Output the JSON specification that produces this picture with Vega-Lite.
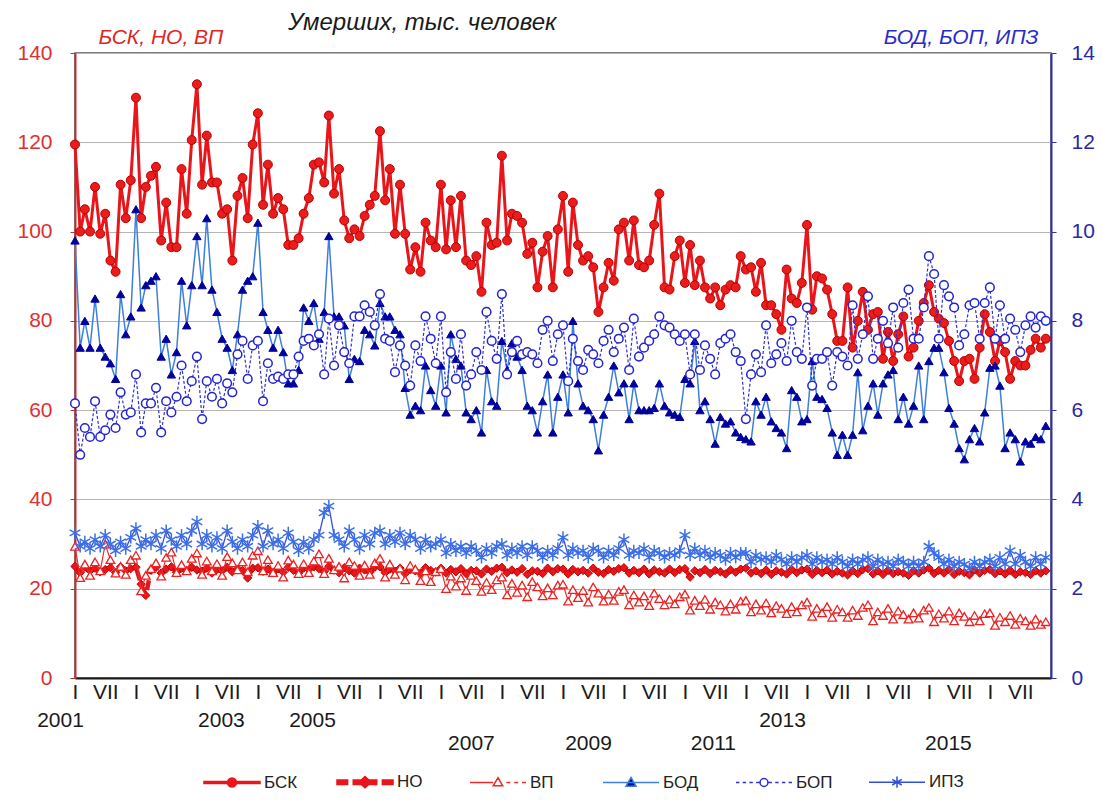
{
"$schema": "https://vega.github.io/schema/vega-lite/v6.json",
"width": 976, "height": 625,
"padding": {"left": 16, "top": 11, "right": 5, "bottom": 5},
"background": "white",
"title": {"text": "Умерших, тыс. человек", "anchor": "start", "frame": "group", "dx": 213, "fontSize": 24, "font": "Liberation Sans", "fontStyle": "italic", "fontWeight": "normal", "color": "#1a1a1a", "offset": -9},
"data": {"format": {"parse": {"d": "date:'%Y-%m'"}}, "values": [
{"d":"2001-01","a":119.5,"b":25.0,"c":29.5,"e":9.8,"f":6.15,"g":3.25},
{"d":"2001-02","a":100,"b":23.6,"c":22.5,"e":7.4,"f":5.0,"g":2.95},
{"d":"2001-03","a":105,"b":24.8,"c":25.5,"e":8.0,"f":5.6,"g":3.05},
{"d":"2001-04","a":100,"b":24.0,"c":23.0,"e":7.4,"f":5.4,"g":2.9},
{"d":"2001-05","a":110,"b":24.6,"c":26.0,"e":8.5,"f":6.2,"g":3.1},
{"d":"2001-06","a":99.5,"b":23.8,"c":24.0,"e":7.4,"f":5.4,"g":2.95},
{"d":"2001-07","a":104,"b":24.3,"c":30.0,"e":7.2,"f":5.55,"g":3.2},
{"d":"2001-08","a":93.5,"b":24.7,"c":26.5,"e":7.05,"f":5.9,"g":3.0},
{"d":"2001-09","a":91,"b":23.6,"c":23.5,"e":6.7,"f":5.6,"g":2.85},
{"d":"2001-10","a":110.5,"b":24.9,"c":25.0,"e":8.6,"f":6.4,"g":3.05},
{"d":"2001-11","a":103,"b":24.0,"c":23.2,"e":7.7,"f":5.9,"g":2.9},
{"d":"2001-12","a":111.5,"b":24.5,"c":26.5,"e":8.1,"f":5.95,"g":3.15},
{"d":"2002-01","a":130,"b":24.8,"c":27.5,"e":10.5,"f":6.8,"g":3.35},
{"d":"2002-02","a":103,"b":21.0,"c":19.5,"e":8.3,"f":5.5,"g":2.95},
{"d":"2002-03","a":110,"b":18.5,"c":23.0,"e":8.8,"f":6.15,"g":3.1},
{"d":"2002-04","a":112.5,"b":24.2,"c":24.5,"e":8.9,"f":6.15,"g":3.0},
{"d":"2002-05","a":114.5,"b":24.8,"c":25.8,"e":9.0,"f":6.5,"g":3.2},
{"d":"2002-06","a":98,"b":23.5,"c":22.8,"e":7.2,"f":5.5,"g":2.9},
{"d":"2002-07","a":106.5,"b":24.4,"c":27.0,"e":7.6,"f":6.2,"g":3.3},
{"d":"2002-08","a":96.5,"b":24.9,"c":28.2,"e":6.8,"f":5.95,"g":3.1},
{"d":"2002-09","a":96.5,"b":23.7,"c":23.6,"e":7.3,"f":6.3,"g":2.95},
{"d":"2002-10","a":114,"b":24.6,"c":25.4,"e":8.9,"f":7.0,"g":3.2},
{"d":"2002-11","a":104,"b":24.1,"c":24.0,"e":7.9,"f":6.2,"g":3.0},
{"d":"2002-12","a":120.5,"b":24.8,"c":26.8,"e":8.8,"f":6.65,"g":3.3},
{"d":"2003-01","a":133,"b":24.2,"c":28.0,"e":9.9,"f":7.2,"g":3.5},
{"d":"2003-02","a":110.5,"b":23.9,"c":23.2,"e":8.8,"f":5.8,"g":3.0},
{"d":"2003-03","a":121.5,"b":24.6,"c":26.2,"e":10.3,"f":6.65,"g":3.2},
{"d":"2003-04","a":111,"b":23.5,"c":24.0,"e":8.7,"f":6.3,"g":2.95},
{"d":"2003-05","a":111,"b":24.3,"c":25.6,"e":8.2,"f":6.7,"g":3.15},
{"d":"2003-06","a":104,"b":24.0,"c":23.0,"e":7.6,"f":6.15,"g":2.9},
{"d":"2003-07","a":105,"b":24.8,"c":27.2,"e":7.4,"f":6.6,"g":3.3},
{"d":"2003-08","a":93.5,"b":23.8,"c":25.8,"e":6.9,"f":6.4,"g":3.05},
{"d":"2003-09","a":108,"b":24.4,"c":24.2,"e":7.7,"f":7.25,"g":2.9},
{"d":"2003-10","a":112,"b":24.1,"c":26.0,"e":8.7,"f":7.55,"g":3.1},
{"d":"2003-11","a":103,"b":22.4,"c":23.8,"e":8.9,"f":6.7,"g":2.95},
{"d":"2003-12","a":119.5,"b":24.6,"c":27.5,"e":9.0,"f":7.45,"g":3.2},
{"d":"2004-01","a":126.5,"b":24.7,"c":28.5,"e":10.2,"f":7.55,"g":3.4},
{"d":"2004-02","a":106,"b":23.9,"c":24.0,"e":8.2,"f":6.2,"g":2.95},
{"d":"2004-03","a":115,"b":24.4,"c":26.5,"e":7.8,"f":7.05,"g":3.3},
{"d":"2004-04","a":104,"b":23.6,"c":23.6,"e":7.4,"f":6.7,"g":3.0},
{"d":"2004-05","a":107.5,"b":24.5,"c":25.2,"e":7.8,"f":6.75,"g":3.1},
{"d":"2004-06","a":105,"b":23.7,"c":22.6,"e":7.3,"f":6.7,"g":2.9},
{"d":"2004-07","a":97,"b":24.8,"c":26.4,"e":6.6,"f":6.8,"g":3.25},
{"d":"2004-08","a":97,"b":24.1,"c":25.5,"e":6.6,"f":6.8,"g":3.05},
{"d":"2004-09","a":98.5,"b":23.5,"c":23.4,"e":6.9,"f":7.2,"g":2.85},
{"d":"2004-10","a":104,"b":24.6,"c":25.6,"e":8.3,"f":7.55,"g":3.05},
{"d":"2004-11","a":107.5,"b":24.3,"c":23.6,"e":8.0,"f":7.6,"g":2.9},
{"d":"2004-12","a":115,"b":24.9,"c":26.2,"e":8.4,"f":7.45,"g":3.1},
{"d":"2005-01","a":115.5,"b":24.5,"c":27.8,"e":7.6,"f":7.7,"g":3.2},
{"d":"2005-02","a":111,"b":23.8,"c":23.4,"e":8.2,"f":6.8,"g":3.7},
{"d":"2005-03","a":126,"b":25.0,"c":26.8,"e":9.9,"f":8.05,"g":3.85},
{"d":"2005-04","a":108.5,"b":24.2,"c":24.2,"e":8.1,"f":7.0,"g":3.2},
{"d":"2005-05","a":114,"b":23.6,"c":25.0,"e":8.1,"f":7.9,"g":3.1},
{"d":"2005-06","a":102.5,"b":24.7,"c":22.4,"e":7.9,"f":7.3,"g":2.95},
{"d":"2005-07","a":98.5,"b":24.0,"c":26.0,"e":6.7,"f":7.05,"g":3.3},
{"d":"2005-08","a":100.5,"b":23.5,"c":25.2,"e":7.15,"f":8.1,"g":3.1},
{"d":"2005-09","a":99,"b":24.6,"c":23.0,"e":7.1,"f":8.1,"g":2.9},
{"d":"2005-10","a":103.5,"b":24.2,"c":25.3,"e":7.8,"f":8.35,"g":3.2},
{"d":"2005-11","a":106,"b":23.7,"c":23.2,"e":7.7,"f":8.2,"g":3.0},
{"d":"2005-12","a":108,"b":24.8,"c":25.8,"e":7.45,"f":7.9,"g":3.25},
{"d":"2006-01","a":122.5,"b":24.9,"c":26.8,"e":8.4,"f":8.6,"g":3.3},
{"d":"2006-02","a":107,"b":23.6,"c":22.6,"e":8.1,"f":7.6,"g":3.0},
{"d":"2006-03","a":114,"b":24.4,"c":25.5,"e":8.1,"f":7.55,"g":3.2},
{"d":"2006-04","a":99.5,"b":23.9,"c":23.2,"e":7.8,"f":6.85,"g":3.05},
{"d":"2006-05","a":110.5,"b":24.6,"c":24.6,"e":7.7,"f":7.45,"g":3.25},
{"d":"2006-06","a":99.5,"b":23.4,"c":22.0,"e":6.5,"f":7.0,"g":3.0},
{"d":"2006-07","a":91.5,"b":24.3,"c":25.2,"e":5.9,"f":6.55,"g":3.2},
{"d":"2006-08","a":96.5,"b":24.0,"c":24.4,"e":6.1,"f":7.45,"g":3.1},
{"d":"2006-09","a":91,"b":23.5,"c":21.8,"e":6.0,"f":7.1,"g":2.9},
{"d":"2006-10","a":102,"b":24.7,"c":24.0,"e":7.0,"f":8.1,"g":3.1},
{"d":"2006-11","a":98,"b":24.1,"c":21.6,"e":6.45,"f":7.6,"g":2.95},
{"d":"2006-12","a":96.5,"b":23.8,"c":23.8,"e":6.1,"f":7.05,"g":3.0},
{"d":"2007-01","a":110.5,"b":24.6,"c":24.5,"e":7.0,"f":8.1,"g":3.1},
{"d":"2007-02","a":96,"b":23.5,"c":20.0,"e":5.95,"f":6.4,"g":2.8},
{"d":"2007-03","a":107,"b":24.3,"c":22.8,"e":7.7,"f":7.3,"g":3.0},
{"d":"2007-04","a":96.5,"b":23.8,"c":20.6,"e":7.15,"f":6.7,"g":2.85},
{"d":"2007-05","a":108,"b":24.5,"c":22.4,"e":7.0,"f":7.7,"g":2.95},
{"d":"2007-06","a":93.5,"b":23.4,"c":19.6,"e":5.95,"f":6.55,"g":2.8},
{"d":"2007-07","a":92.5,"b":24.1,"c":23.0,"e":5.8,"f":6.8,"g":2.95},
{"d":"2007-08","a":94.5,"b":24.0,"c":21.8,"e":6.0,"f":7.3,"g":2.85},
{"d":"2007-09","a":86.5,"b":23.3,"c":19.4,"e":5.5,"f":6.9,"g":2.7},
{"d":"2007-10","a":102,"b":24.4,"c":21.4,"e":6.9,"f":8.2,"g":2.9},
{"d":"2007-11","a":97,"b":23.9,"c":19.8,"e":6.2,"f":7.55,"g":2.8},
{"d":"2007-12","a":97.5,"b":24.6,"c":22.0,"e":6.1,"f":7.15,"g":2.95},
{"d":"2008-01","a":117,"b":24.8,"c":22.6,"e":7.55,"f":8.6,"g":3.0},
{"d":"2008-02","a":98,"b":23.6,"c":18.6,"e":6.9,"f":6.8,"g":2.75},
{"d":"2008-03","a":104,"b":24.2,"c":21.2,"e":7.5,"f":7.3,"g":2.9},
{"d":"2008-04","a":103.5,"b":23.7,"c":19.2,"e":7.2,"f":7.55,"g":2.8},
{"d":"2008-05","a":102,"b":24.5,"c":20.8,"e":6.9,"f":7.25,"g":2.95},
{"d":"2008-06","a":95,"b":23.2,"c":18.2,"e":6.1,"f":7.3,"g":2.75},
{"d":"2008-07","a":97.5,"b":24.0,"c":21.6,"e":6.0,"f":7.25,"g":2.95},
{"d":"2008-08","a":87.5,"b":23.9,"c":20.4,"e":5.5,"f":7.05,"g":2.85},
{"d":"2008-09","a":95.5,"b":23.4,"c":18.4,"e":6.2,"f":7.8,"g":2.7},
{"d":"2008-10","a":99,"b":24.6,"c":20.2,"e":6.8,"f":8.0,"g":2.85},
{"d":"2008-11","a":87.5,"b":23.8,"c":18.6,"e":5.5,"f":7.1,"g":2.75},
{"d":"2008-12","a":100.5,"b":24.5,"c":20.8,"e":6.3,"f":7.7,"g":2.9},
{"d":"2009-01","a":108,"b":24.4,"c":21.0,"e":6.8,"f":7.9,"g":3.15},
{"d":"2009-02","a":91,"b":23.3,"c":17.2,"e":5.95,"f":6.65,"g":2.75},
{"d":"2009-03","a":106.5,"b":24.3,"c":19.8,"e":8.0,"f":7.6,"g":2.9},
{"d":"2009-04","a":97,"b":23.8,"c":18.0,"e":6.6,"f":7.1,"g":2.8},
{"d":"2009-05","a":93.5,"b":24.1,"c":19.6,"e":6.1,"f":6.9,"g":2.85},
{"d":"2009-06","a":94.5,"b":23.5,"c":17.0,"e":6.0,"f":7.35,"g":2.7},
{"d":"2009-07","a":92,"b":24.6,"c":20.4,"e":5.8,"f":7.25,"g":2.9},
{"d":"2009-08","a":82,"b":23.7,"c":19.0,"e":5.1,"f":7.05,"g":2.85},
{"d":"2009-09","a":87.5,"b":23.4,"c":17.2,"e":5.9,"f":7.55,"g":2.7},
{"d":"2009-10","a":93,"b":24.3,"c":18.8,"e":6.3,"f":7.8,"g":2.85},
{"d":"2009-11","a":89,"b":23.9,"c":17.4,"e":7.0,"f":7.3,"g":2.75},
{"d":"2009-12","a":100.5,"b":24.5,"c":19.4,"e":6.4,"f":7.6,"g":2.9},
{"d":"2010-01","a":102,"b":24.7,"c":19.8,"e":6.6,"f":7.85,"g":3.1},
{"d":"2010-02","a":93.5,"b":23.5,"c":16.4,"e":5.8,"f":6.9,"g":2.75},
{"d":"2010-03","a":102.5,"b":24.1,"c":18.6,"e":6.6,"f":8.05,"g":2.85},
{"d":"2010-04","a":92.5,"b":23.6,"c":17.0,"e":6.0,"f":7.2,"g":2.8},
{"d":"2010-05","a":92,"b":24.4,"c":18.4,"e":6.0,"f":7.4,"g":2.9},
{"d":"2010-06","a":93.5,"b":23.3,"c":16.2,"e":6.0,"f":7.55,"g":2.7},
{"d":"2010-07","a":101.5,"b":24.2,"c":19.0,"e":6.05,"f":7.7,"g":2.85},
{"d":"2010-08","a":108.5,"b":23.8,"c":17.8,"e":6.6,"f":8.1,"g":2.8},
{"d":"2010-09","a":87.5,"b":23.5,"c":16.4,"e":6.1,"f":7.9,"g":2.7},
{"d":"2010-10","a":87,"b":24.4,"c":17.6,"e":5.95,"f":7.85,"g":2.8},
{"d":"2010-11","a":94.5,"b":23.6,"c":16.6,"e":5.9,"f":7.7,"g":2.75},
{"d":"2010-12","a":98,"b":24.3,"c":18.2,"e":5.85,"f":7.55,"g":2.85},
{"d":"2011-01","a":88.5,"b":24.5,"c":18.8,"e":6.7,"f":7.7,"g":3.2},
{"d":"2011-02","a":97,"b":22.6,"c":15.2,"e":6.6,"f":6.8,"g":2.75},
{"d":"2011-03","a":88,"b":24.0,"c":17.4,"e":7.55,"f":7.7,"g":2.9},
{"d":"2011-04","a":93.5,"b":23.6,"c":16.2,"e":6.0,"f":6.9,"g":2.75},
{"d":"2011-05","a":87.5,"b":24.3,"c":17.6,"e":6.2,"f":7.45,"g":2.85},
{"d":"2011-06","a":85,"b":23.4,"c":15.4,"e":5.8,"f":7.15,"g":2.7},
{"d":"2011-07","a":87.5,"b":24.1,"c":17.0,"e":5.25,"f":6.8,"g":2.8},
{"d":"2011-08","a":83.5,"b":23.8,"c":16.4,"e":5.85,"f":7.5,"g":2.75},
{"d":"2011-09","a":87,"b":23.3,"c":15.0,"e":5.7,"f":7.6,"g":2.65},
{"d":"2011-10","a":88,"b":24.2,"c":16.6,"e":5.75,"f":7.7,"g":2.8},
{"d":"2011-11","a":87.5,"b":23.7,"c":15.4,"e":5.5,"f":7.3,"g":2.7},
{"d":"2011-12","a":94.5,"b":24.4,"c":17.2,"e":5.4,"f":7.1,"g":2.8},
{"d":"2012-01","a":91.5,"b":24.6,"c":17.4,"e":5.35,"f":5.8,"g":2.8},
{"d":"2012-02","a":92,"b":23.5,"c":14.8,"e":5.3,"f":6.8,"g":2.6},
{"d":"2012-03","a":86.5,"b":24.0,"c":16.6,"e":6.2,"f":7.25,"g":2.75},
{"d":"2012-04","a":93,"b":23.4,"c":15.2,"e":5.9,"f":6.85,"g":2.65},
{"d":"2012-05","a":83.5,"b":24.2,"c":16.8,"e":6.3,"f":7.9,"g":2.7},
{"d":"2012-06","a":83.5,"b":23.2,"c":14.6,"e":5.75,"f":7.05,"g":2.6},
{"d":"2012-07","a":81.5,"b":24.0,"c":16.2,"e":5.6,"f":7.25,"g":2.75},
{"d":"2012-08","a":78,"b":23.7,"c":15.6,"e":5.5,"f":7.5,"g":2.65},
{"d":"2012-09","a":91.5,"b":23.3,"c":14.4,"e":5.15,"f":7.1,"g":2.55},
{"d":"2012-10","a":85,"b":24.3,"c":16.0,"e":6.45,"f":8.0,"g":2.7},
{"d":"2012-11","a":84,"b":23.6,"c":14.8,"e":6.3,"f":7.3,"g":2.6},
{"d":"2012-12","a":88.5,"b":24.2,"c":16.4,"e":5.75,"f":7.15,"g":2.7},
{"d":"2013-01","a":101.5,"b":24.4,"c":17.0,"e":5.8,"f":8.3,"g":2.75},
{"d":"2013-02","a":82.5,"b":23.2,"c":13.8,"e":7.1,"f":6.55,"g":2.55},
{"d":"2013-03","a":90,"b":24.1,"c":15.6,"e":6.3,"f":7.15,"g":2.7},
{"d":"2013-04","a":89.5,"b":23.6,"c":14.6,"e":6.25,"f":7.15,"g":2.6},
{"d":"2013-05","a":87,"b":24.2,"c":16.0,"e":6.05,"f":7.3,"g":2.65},
{"d":"2013-06","a":81.5,"b":23.3,"c":13.6,"e":5.5,"f":6.55,"g":2.55},
{"d":"2013-07","a":75.5,"b":23.9,"c":15.4,"e":5.0,"f":7.3,"g":2.7},
{"d":"2013-08","a":75.5,"b":23.5,"c":14.8,"e":5.45,"f":7.2,"g":2.6},
{"d":"2013-09","a":87.5,"b":23.1,"c":13.6,"e":5.0,"f":7.0,"g":2.5},
{"d":"2013-10","a":74,"b":24.0,"c":15.2,"e":5.45,"f":8.35,"g":2.65},
{"d":"2013-11","a":80,"b":23.4,"c":14.0,"e":6.85,"f":7.15,"g":2.55},
{"d":"2013-12","a":86.5,"b":24.3,"c":15.8,"e":5.55,"f":7.7,"g":2.65},
{"d":"2014-01","a":78,"b":24.5,"c":16.4,"e":6.1,"f":8.55,"g":2.7},
{"d":"2014-02","a":81.5,"b":23.3,"c":12.8,"e":6.6,"f":7.15,"g":2.5},
{"d":"2014-03","a":82,"b":24.0,"c":14.8,"e":5.9,"f":7.6,"g":2.65},
{"d":"2014-04","a":71.5,"b":23.2,"c":14.0,"e":6.6,"f":8.0,"g":2.55},
{"d":"2014-05","a":77.5,"b":24.1,"c":15.6,"e":6.8,"f":7.5,"g":2.6},
{"d":"2014-06","a":71,"b":23.4,"c":13.2,"e":6.9,"f":8.3,"g":2.5},
{"d":"2014-07","a":77,"b":23.8,"c":15.0,"e":5.8,"f":7.4,"g":2.65},
{"d":"2014-08","a":81,"b":23.5,"c":14.2,"e":6.3,"f":8.4,"g":2.6},
{"d":"2014-09","a":72,"b":23.0,"c":13.2,"e":5.7,"f":8.7,"g":2.5},
{"d":"2014-10","a":74,"b":24.0,"c":14.6,"e":6.1,"f":7.6,"g":2.6},
{"d":"2014-11","a":80,"b":23.5,"c":13.4,"e":7.0,"f":7.6,"g":2.5},
{"d":"2014-12","a":84,"b":24.2,"c":15.2,"e":5.8,"f":8.3,"g":2.6},
{"d":"2015-01","a":88,"b":24.6,"c":15.8,"e":7.1,"f":9.45,"g":2.95},
{"d":"2015-02","a":82,"b":23.4,"c":12.6,"e":7.4,"f":9.05,"g":2.8},
{"d":"2015-03","a":80.5,"b":24.1,"c":14.4,"e":7.4,"f":7.6,"g":2.7},
{"d":"2015-04","a":79.5,"b":23.5,"c":13.4,"e":6.85,"f":8.8,"g":2.55},
{"d":"2015-05","a":75.5,"b":24.3,"c":15.0,"e":6.05,"f":8.55,"g":2.65},
{"d":"2015-06","a":71,"b":23.2,"c":12.8,"e":5.7,"f":8.3,"g":2.5},
{"d":"2015-07","a":66.5,"b":23.9,"c":14.6,"e":5.15,"f":7.45,"g":2.6},
{"d":"2015-08","a":71,"b":23.6,"c":13.8,"e":4.9,"f":7.7,"g":2.55},
{"d":"2015-09","a":71.5,"b":23.1,"c":12.6,"e":5.35,"f":8.35,"g":2.45},
{"d":"2015-10","a":67,"b":24.2,"c":14.0,"e":5.6,"f":8.4,"g":2.6},
{"d":"2015-11","a":74,"b":23.5,"c":12.8,"e":5.3,"f":7.6,"g":2.5},
{"d":"2015-12","a":81.5,"b":24.1,"c":14.4,"e":5.95,"f":8.4,"g":2.6},
{"d":"2016-01","a":77.5,"b":24.3,"c":14.6,"e":6.95,"f":8.75,"g":2.65},
{"d":"2016-02","a":71,"b":23.4,"c":11.8,"e":7.0,"f":7.6,"g":2.5},
{"d":"2016-03","a":75.5,"b":24.0,"c":13.6,"e":6.55,"f":8.35,"g":2.7},
{"d":"2016-04","a":73,"b":23.3,"c":12.6,"e":5.15,"f":7.6,"g":2.55},
{"d":"2016-05","a":67,"b":24.1,"c":14.0,"e":5.5,"f":8.05,"g":2.85},
{"d":"2016-06","a":71,"b":23.2,"c":12.0,"e":5.35,"f":7.8,"g":2.55},
{"d":"2016-07","a":70,"b":23.8,"c":13.4,"e":4.85,"f":7.3,"g":2.75},
{"d":"2016-08","a":70,"b":23.6,"c":12.8,"e":5.3,"f":7.9,"g":2.6},
{"d":"2016-09","a":73.5,"b":23.2,"c":11.8,"e":5.25,"f":8.1,"g":2.5},
{"d":"2016-10","a":76,"b":24.0,"c":13.2,"e":5.4,"f":7.85,"g":2.7},
{"d":"2016-11","a":74,"b":23.5,"c":12.0,"e":5.35,"f":8.1,"g":2.55},
{"d":"2016-12","a":76,"b":24.0,"c":12.6,"e":5.65,"f":8.0,"g":2.7}
]},
"layer": [
  {"transform": [{"fold": ["a", "b", "c"], "as": ["k", "v"]}],
   "encoding": {
     "x": {"field": "d", "type": "temporal",
       "scale": {"domain": [{"year": 2001, "month": 1, "date": 1}, {"year": 2017, "month": 1, "date": 1}]},
       "axis": {"orient": "bottom", "title": null, "tickCount": {"interval": "month", "step": 6},
         "labelExpr": "year(datum.value) > 2016 ? '' : month(datum.value) == 6 ? 'VII' : 'I'",
         "grid": false, "ticks": false, "domainColor": "#1a1a1a", "domainWidth": 2,
         "labelFont": "Liberation Sans", "labelFontSize": 21, "labelColor": "#1a1a1a", "labelPadding": 3,
         "labelOverlap": false, "labelFlush": false, "labelBound": false, "labelAlign": "center", "labelBaseline": "top"}},
     "y": {"field": "v", "type": "quantitative", "scale": {"domain": [0, 140], "nice": false},
     "axis": {"orient": "left", "title": "БСК, НО, ВП", "titleAngle": 0, "titleX": 23, "titleY": -10, "titleAlign": "left", "titleBaseline": "alphabetic",
       "titleColor": "#e02525", "titleFont": "Liberation Sans", "titleFontSize": 21, "titleFontStyle": "italic", "titleFontWeight": "normal",
       "values": [0, 20, 40, 60, 80, 100, 120, 140], "labelColor": "#dd3030", "labelFont": "Liberation Sans", "labelFontSize": 21, "labelPadding": 18,
       "tickSize": 5, "tickColor": "#c03030", "domainColor": "#c03030", "domainWidth": 2,
       "grid": true, "gridColor": "#b4b4b4", "gridWidth": 1.2}}},
   "layer": [
     {"transform": [{"filter": "datum.k == 'a'"}], "mark": {"type": "line", "color": "#e8161b", "strokeWidth": 3}},
     {"transform": [{"filter": "datum.k == 'a'"}], "mark": {"type": "point", "shape": "circle", "filled": true, "size": 80, "fill": "#ea1c1c", "stroke": "#b80000", "strokeWidth": 1, "opacity": 1}},
     {"transform": [{"filter": "datum.k == 'b'"}], "mark": {"type": "line", "color": "#e8161b", "strokeWidth": 4.5, "strokeDash": [10, 6]}},
     {"transform": [{"filter": "datum.k == 'b'"}], "mark": {"type": "point", "shape": "diamond", "filled": true, "size": 70, "fill": "#e8161b", "stroke": "#c00000", "strokeWidth": 1, "opacity": 1}},
     {"transform": [{"filter": "datum.k == 'c'"}], "mark": {"type": "line", "color": "#ee2a2a", "strokeWidth": 1.2}},
     {"transform": [{"filter": "datum.k == 'c'"}], "mark": {"type": "point", "shape": "triangle-up", "filled": true, "size": 75, "fill": "#ffffff", "stroke": "#ee2020", "strokeWidth": 1.3, "opacity": 1}}
   ]},
  {"transform": [{"fold": ["e", "f", "g"], "as": ["k", "v"]}],
   "encoding": {
     "x": {"field": "d", "type": "temporal",
       "scale": {"domain": [{"year": 2001, "month": 1, "date": 1}, {"year": 2017, "month": 1, "date": 1}]},
       "axis": {"orient": "bottom", "title": null,
         "values": [{"year": 2001, "month": 1, "date": 1}, {"year": 2003, "month": 1, "date": 1}, {"year": 2005, "month": 1, "date": 1}, {"year": 2007, "month": 1, "date": 1}, {"year": 2009, "month": 1, "date": 1}, {"year": 2011, "month": 1, "date": 1}, {"year": 2013, "month": 1, "date": 1}, {"year": 2015, "month": 1, "date": 1}],
         "labelExpr": "timeFormat(datum.value, '%Y')",
         "grid": false, "ticks": false, "domain": false,
         "labelFont": "Liberation Sans", "labelFontSize": 21, "labelColor": "#1a1a1a",
         "labelOverlap": false, "labelFlush": false, "labelBound": false, "labelAlign": "center", "labelBaseline": "top",
         "labelOffset": {"condition": [
           {"test": "year(datum.value) == 2001", "value": -15},
           {"test": "year(datum.value) == 2003", "value": 24},
           {"test": "year(datum.value) == 2005", "value": -7},
           {"test": "year(datum.value) == 2007", "value": 30},
           {"test": "year(datum.value) == 2009", "value": 25},
           {"test": "year(datum.value) == 2011", "value": 28},
           {"test": "year(datum.value) == 2013", "value": -25},
           {"test": "year(datum.value) == 2015", "value": 19}], "value": 0},
         "labelPadding": {"condition": {"test": "year(datum.value) == 2007 || year(datum.value) == 2009 || year(datum.value) == 2011 || year(datum.value) == 2015", "value": 54}, "value": 31}}},
     "y": {"field": "v", "type": "quantitative", "scale": {"domain": [0, 14], "nice": false},
     "axis": {"orient": "right", "title": "БОД, БОП, ИПЗ", "titleAngle": 0, "titleX": -13, "titleY": -10, "titleAlign": "right", "titleBaseline": "alphabetic",
       "titleColor": "#2a2ac8", "titleFont": "Liberation Sans", "titleFontSize": 21, "titleFontStyle": "italic", "titleFontWeight": "normal",
       "values": [0, 2, 4, 6, 8, 10, 12, 14], "labelColor": "#2828a8", "labelFont": "Liberation Sans", "labelFontSize": 21, "labelPadding": 15,
       "tickSize": 5, "tickColor": "#3030b0", "domainColor": "#3030b0", "domainWidth": 2, "grid": false}}},
   "layer": [
     {"transform": [{"filter": "datum.k == 'e'"}], "mark": {"type": "line", "color": "#3d7fdc", "strokeWidth": 1.5}},
     {"transform": [{"filter": "datum.k == 'e'"}], "mark": {"type": "point", "shape": "triangle-up", "filled": true, "size": 70, "fill": "#00009c", "stroke": "#00009c", "strokeWidth": 1, "opacity": 1}},
     {"transform": [{"filter": "datum.k == 'f'"}], "mark": {"type": "line", "color": "#2f2fd8", "strokeWidth": 1.2, "strokeDash": [3, 2]}},
     {"transform": [{"filter": "datum.k == 'f'"}], "mark": {"type": "point", "shape": "circle", "filled": true, "size": 75, "fill": "#ffffff", "stroke": "#2424d0", "strokeWidth": 1.5, "opacity": 1}},
     {"transform": [{"filter": "datum.k == 'g'"}], "mark": {"type": "line", "color": "#3a50d8", "strokeWidth": 1.3}},
     {"transform": [{"filter": "datum.k == 'g'"}], "mark": {"type": "point", "shape": "M0,-1V1M-0.87,-0.5L0.87,0.5M-0.87,0.5L0.87,-0.5", "filled": false, "size": 150, "stroke": "#3a6fe8", "strokeWidth": 1.5, "opacity": 1}}
   ]},
  {"data": {"values": [{"s": "БСК"}]},
   "transform": [{"filter": "false"}],
   "mark": {"type": "point", "filled": true, "opacity": 1},
   "encoding": {
     "shape": {"field": "s", "type": "nominal",
       "scale": {"domain": ["БСК", "НО", "ВП", "БОД", "БОП", "ИПЗ"],
         "range": [
           "M-1,-0.04H1V0.04H-1ZM0.16,0A0.16,0.16,0,1,1,-0.16,0A0.16,0.16,0,1,1,0.16,0Z",
           "M-1,-0.08H-0.62V0.08H-1ZM-0.42,-0.08H0.42V0.08H-0.42ZM0.62,-0.08H1V0.08H0.62ZM0,-0.2L0.22,0L0,0.2L-0.22,0Z",
           "M-1,0H-0.17M0.3,0H0.44M0.58,0H0.72M0.86,0H1M0,-0.17L0.17,0.12L-0.17,0.12Z",
           "M-1,0H1M0,-0.18L0.18,0.13L-0.18,0.13Z",
           "M-1,0H-0.88M-0.76,0H-0.64M-0.52,0H-0.4M-0.28,0H-0.16M0.16,0H0.28M0.4,0H0.52M0.64,0H0.76M0.88,0H1M0.14,0A0.14,0.14,0,1,1,-0.14,0A0.14,0.14,0,1,1,0.14,0Z",
           "M-1,0H1M0,-0.2V0.2M-0.17,-0.1L0.17,0.1M-0.17,0.1L0.17,-0.1"]},
       "legend": {"title": null, "orient": "none", "legendX": 128, "legendY": 700, "direction": "horizontal", "columns": 6}},
     "fill": {"field": "s", "type": "nominal",
       "scale": {"domain": ["БСК", "НО", "ВП", "БОД", "БОП", "ИПЗ"], "range": ["#e8161b", "#e8161b", "#ffffff", "#000099", "#ffffff", "transparent"]},
       "legend": {"title": null, "orient": "none", "legendX": 128, "legendY": 700, "direction": "horizontal", "columns": 6}},
     "stroke": {"field": "s", "type": "nominal",
       "scale": {"domain": ["БСК", "НО", "ВП", "БОД", "БОП", "ИПЗ"], "range": ["#e8161b", "#e8161b", "#ee2a2a", "#3d7fdc", "#2f2fd8", "#3050d8"]},
       "legend": {"title": null, "orient": "none", "legendX": 128, "legendY": 700, "direction": "horizontal", "columns": 6}}
   }}
],
"resolve": {"scale": {"y": "independent"}, "axis": {"x": "independent"}},
"config": {
  "font": "Liberation Sans",
  "view": {"stroke": "#555555", "strokeWidth": 1.5},
  "legend": {"labelFont": "Liberation Sans", "labelFontSize": 17, "labelColor": "#222222", "symbolSize": 3136, "symbolStrokeWidth": 1.5,
    "columnPadding": 33, "gridAlign": "all", "labelOffset": 3, "symbolOpacity": 1, "padding": 0, "labelLimit": 200}
}
}
